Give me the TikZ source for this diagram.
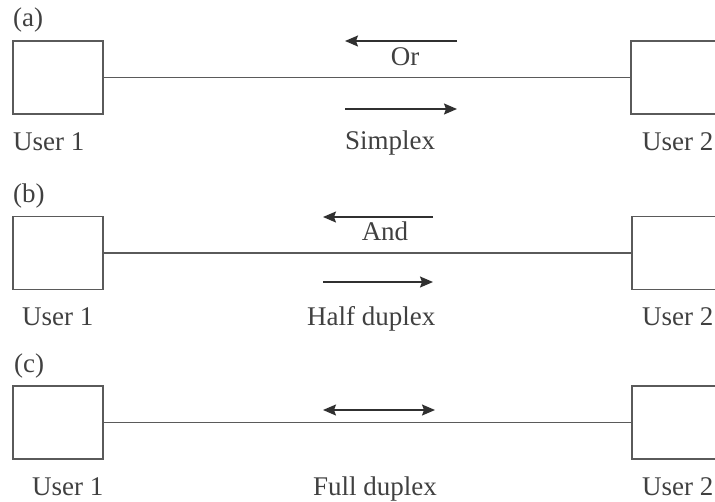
\documentclass[tikz,border=0pt]{standalone}
\usepackage{fontspec}
\setmainfont{Liberation Serif}
\usepackage{xcolor}
\usetikzlibrary{arrows.meta, positioning}
\definecolor{linegray}{HTML}{5a5a5a}
\definecolor{arrowgray}{HTML}{303030}
\definecolor{textgray}{HTML}{404040}

\begin{document}
\begin{tikzpicture}[x=1pt, y=-1pt,
  user/.style={
    rectangle, draw=linegray, line width=1.8pt,
    minimum width=90pt, minimum height=73pt, inner sep=0pt},
  link/.style={draw=linegray, line width=1.5pt},
  flow/.style={-{Stealth[length=13pt, width=11pt, inset=2pt]}, line width=1.5pt, arrowgray},
  both/.style={{Stealth[length=13pt, width=11pt, inset=2pt]}-{Stealth[length=13pt, width=11pt, inset=2pt]},
    line width=1.5pt, arrowgray},
  txt/.style={font=\fontsize{27}{32}\selectfont, text=textgray, inner sep=0pt, anchor=base west},
  mid/.style={font=\fontsize{27}{32}\selectfont, text=textgray, inner sep=0pt, anchor=base},
]
  \clip (0,0) rectangle (715,501);

  % (a) Simplex
  \node[txt] (La) at (13,26) {(a)};
  \node[user] (U1a) at (58,77.5) {};
  \node[user] (U2a) at (676,77.5) {};
  \draw[link] (U1a) -- (U2a);
  \node[txt] (N1a) at (13,150) {User 1};
  \node[txt] (N2a) at (642,150) {User 2};
  \coordinate (Pa1) at (457,41);
  \coordinate (Pa2) at (345,41);
  \coordinate (Qa1) at (345,109);
  \coordinate (Qa2) at (457,109);
  \draw[flow] (Pa1) -- (Pa2);
  \draw[flow] (Qa1) -- (Qa2);
  \node[mid] (Ora) at (405,65) {Or};
  \node[txt] (Sa) at (345,149) {Simplex};

  % (b) Half duplex
  \node[txt] (Lb) at (13,202) {(b)};
  \node[user] (U1b) at (58,253) {};
  \node[user] (U2b) at (677,253) {};
  \draw[link] (U1b) -- (U2b);
  \node[txt] (N1b) at (22,325) {User 1};
  \node[txt] (N2b) at (642,325) {User 2};
  \coordinate (Pb1) at (433,217);
  \coordinate (Pb2) at (323,217);
  \coordinate (Qb1) at (323,282);
  \coordinate (Qb2) at (433,282);
  \draw[flow] (Pb1) -- (Pb2);
  \draw[flow] (Qb1) -- (Qb2);
  \node[mid] (Andb) at (385,240) {And};
  \node[txt] (Hb) at (307,325) {Half duplex};

  % (c) Full duplex
  \node[txt] (Lc) at (14,372) {(c)};
  \node[user] (U1c) at (58,422.5) {};
  \node[user] (U2c) at (677,422.5) {};
  \draw[link] (U1c) -- (U2c);
  \node[txt] (N1c) at (32,495) {User 1};
  \node[txt] (N2c) at (642,495) {User 2};
  \coordinate (Pc1) at (323,410);
  \coordinate (Pc2) at (435,410);
  \draw[both] (Pc1) -- (Pc2);
  \node[txt] (Fc) at (313,495) {Full duplex};
\end{tikzpicture}
\end{document}
